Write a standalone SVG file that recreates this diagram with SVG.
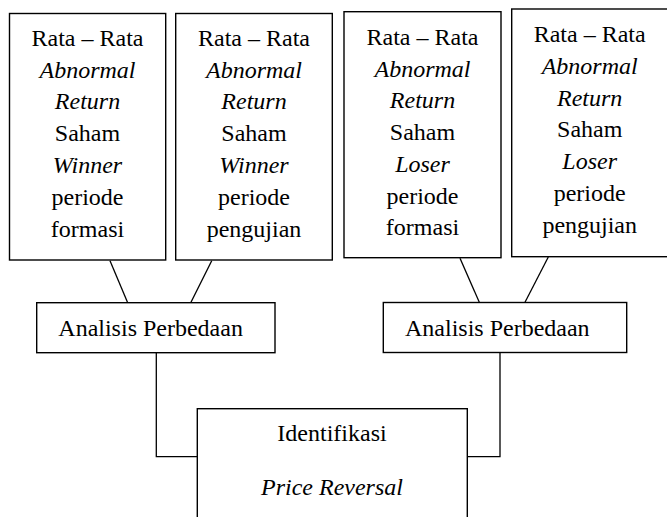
<svg xmlns="http://www.w3.org/2000/svg" width="667" height="517" viewBox="0 0 667 517">
<rect width="667" height="517" fill="#fff"/>
<g id="connectors" fill="none" stroke="#000" stroke-width="1.3">
<line x1="110" y1="260.7" x2="127.7" y2="302.7"/>
<line x1="211.7" y1="260.7" x2="190.7" y2="302.7"/>
<line x1="460" y1="258.3" x2="479.3" y2="302.3"/>
<line x1="548.3" y1="257" x2="525" y2="302.3"/>
<polyline points="156.3,352.7 156.3,456.7 197.3,456.7"/>
<polyline points="500,352.7 500,456.7 466.5,456.7"/>
</g>
<g id="box1">
<rect x="9.5" y="13.5" width="156.2" height="246.5" fill="#fff" stroke="#000" stroke-width="1.4"/>
<text font-family="Liberation Serif" font-size="24" text-anchor="middle" x="87.5" y="45.7">Rata – Rata</text>
<text font-family="Liberation Serif" font-size="24" text-anchor="middle" font-style="italic" x="87.5" y="77.5">Abnormal</text>
<text font-family="Liberation Serif" font-size="24" text-anchor="middle" font-style="italic" x="87.5" y="109.3">Return</text>
<text font-family="Liberation Serif" font-size="24" text-anchor="middle" x="87.5" y="141.1">Saham</text>
<text font-family="Liberation Serif" font-size="24" text-anchor="middle" font-style="italic" x="87.5" y="172.9">Winner</text>
<text font-family="Liberation Serif" font-size="24" text-anchor="middle" x="87.5" y="204.7">periode</text>
<text font-family="Liberation Serif" font-size="24" text-anchor="middle" x="87.5" y="236.5">formasi</text>
</g>
<g id="box2">
<rect x="175.7" y="13.5" width="156.6" height="246.5" fill="#fff" stroke="#000" stroke-width="1.4"/>
<text font-family="Liberation Serif" font-size="24" text-anchor="middle" x="254" y="45.7">Rata – Rata</text>
<text font-family="Liberation Serif" font-size="24" text-anchor="middle" font-style="italic" x="254" y="77.5">Abnormal</text>
<text font-family="Liberation Serif" font-size="24" text-anchor="middle" font-style="italic" x="254" y="109.3">Return</text>
<text font-family="Liberation Serif" font-size="24" text-anchor="middle" x="254" y="141.1">Saham</text>
<text font-family="Liberation Serif" font-size="24" text-anchor="middle" font-style="italic" x="254" y="172.9">Winner</text>
<text font-family="Liberation Serif" font-size="24" text-anchor="middle" x="254" y="204.7">periode</text>
<text font-family="Liberation Serif" font-size="24" text-anchor="middle" x="254" y="236.5">pengujian</text>
</g>
<g id="box3">
<rect x="344" y="11.7" width="157" height="246" fill="#fff" stroke="#000" stroke-width="1.4"/>
<text font-family="Liberation Serif" font-size="24" text-anchor="middle" x="422.5" y="45">Rata – Rata</text>
<text font-family="Liberation Serif" font-size="24" text-anchor="middle" font-style="italic" x="422.5" y="76.7">Abnormal</text>
<text font-family="Liberation Serif" font-size="24" text-anchor="middle" font-style="italic" x="422.5" y="108.4">Return</text>
<text font-family="Liberation Serif" font-size="24" text-anchor="middle" x="422.5" y="140.1">Saham</text>
<text font-family="Liberation Serif" font-size="24" text-anchor="middle" font-style="italic" x="422.5" y="171.8">Loser</text>
<text font-family="Liberation Serif" font-size="24" text-anchor="middle" x="422.5" y="203.5">periode</text>
<text font-family="Liberation Serif" font-size="24" text-anchor="middle" x="422.5" y="235.2">formasi</text>
</g>
<g id="box4">
<rect x="511.7" y="9" width="156.3" height="247.7" fill="#fff" stroke="#000" stroke-width="1.4"/>
<text font-family="Liberation Serif" font-size="24" text-anchor="middle" x="589.7" y="42.3">Rata – Rata</text>
<text font-family="Liberation Serif" font-size="24" text-anchor="middle" font-style="italic" x="589.7" y="74">Abnormal</text>
<text font-family="Liberation Serif" font-size="24" text-anchor="middle" font-style="italic" x="589.7" y="105.7">Return</text>
<text font-family="Liberation Serif" font-size="24" text-anchor="middle" x="589.7" y="137.4">Saham</text>
<text font-family="Liberation Serif" font-size="24" text-anchor="middle" font-style="italic" x="589.7" y="169.1">Loser</text>
<text font-family="Liberation Serif" font-size="24" text-anchor="middle" x="589.7" y="200.8">periode</text>
<text font-family="Liberation Serif" font-size="24" text-anchor="middle" x="589.7" y="232.5">pengujian</text>
</g>
<g id="analisis1">
<rect x="36.7" y="302.7" width="238.3" height="50" fill="#fff" stroke="#000" stroke-width="1.4"/>
<text font-family="Liberation Serif" font-size="24" x="58.3" y="335.7">Analisis Perbedaan</text>
</g>
<g id="analisis2">
<rect x="383.3" y="302.5" width="243.4" height="50" fill="#fff" stroke="#000" stroke-width="1.4"/>
<text font-family="Liberation Serif" font-size="24" x="405" y="335.7">Analisis Perbedaan</text>
</g>
<g id="identifikasi">
<rect x="197.3" y="408.7" width="270" height="130" fill="#fff" stroke="#000" stroke-width="1.4"/>
<text font-family="Liberation Serif" font-size="24" text-anchor="middle" x="332" y="441">Identifikasi</text>
<text font-family="Liberation Serif" font-size="24" text-anchor="middle" font-style="italic" x="332" y="495">Price Reversal</text>
</g>
</svg>
